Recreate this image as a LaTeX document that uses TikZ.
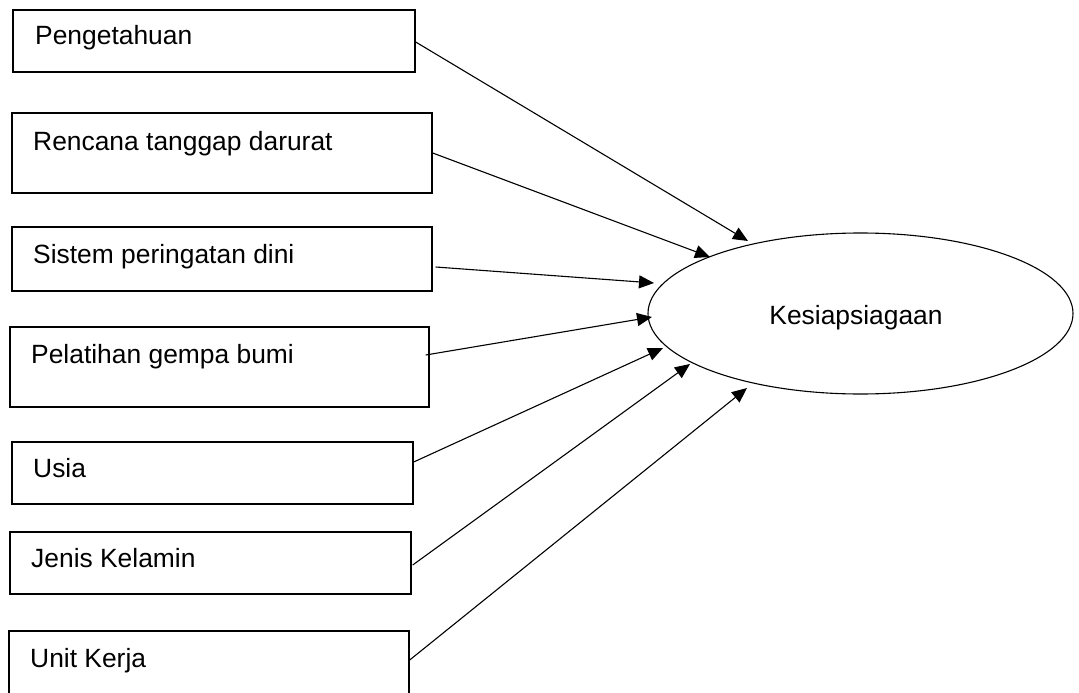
\documentclass[tikz,border=0pt]{standalone}
\usepackage{fontspec}
\setmainfont{Liberation Sans}
\usetikzlibrary{arrows.meta,calc,shapes.geometric}
\begin{document}
\begin{tikzpicture}[x=1pt,y=-1pt,
  box/.style={draw,line width=1.4pt,rectangle,inner sep=0pt},
  lbl/.style={anchor=base west,inner sep=0pt,font=\fontsize{26.4}{30}\selectfont},
  arr/.style={line width=1.1pt,-{Triangle[length=15pt,width=13pt]}}]
\useasboundingbox (0,0) rectangle (1079,693);
\clip (0,0) rectangle (1079,693);
\node[box,minimum width=402pt,minimum height=62pt] (b1) at (214,41) {};
\node[box,minimum width=420pt,minimum height=80pt] (b2) at (222,153) {};
\node[box,minimum width=420pt,minimum height=64pt] (b3) at (222,259) {};
\node[box,minimum width=419pt,minimum height=80pt] (b4) at (219.5,367) {};
\node[box,minimum width=401pt,minimum height=62pt] (b5) at (212.5,473) {};
\node[box,minimum width=401pt,minimum height=62pt] (b6) at (210.5,563) {};
\node[box,minimum width=400pt,minimum height=72pt] (b7) at (209,667) {};
\node[lbl] (t1) at (35,45) {Pengetahuan};
\node[lbl] (t2) at (33,150) {Rencana tanggap darurat};
\node[lbl] (t3) at (33,263) {Sistem peringatan dini};
\node[lbl] (t4) at (31,363) {Pelatihan gempa bumi};
\node[lbl] (t5) at (33,477) {Usia};
\node[lbl] (t6) at (31,567) {Jenis Kelamin};
\node[lbl] (t7) at (30,667) {Unit Kerja};
\node[draw,line width=1.1pt,ellipse,minimum width=425pt,minimum height=161pt,inner sep=0pt] (k) at (860.5,313.5) {};
\node[inner sep=0pt,font=\fontsize{26.4}{30}\selectfont] (kt) at (856,318) {Kesiapsiagaan};
\coordinate (e1) at (748,241);
\coordinate (e2) at (710,257);
\coordinate (e3) at (654,283);
\coordinate (e4) at (652,317);
\coordinate (e5) at (663,348);
\coordinate (e6) at (690,364);
\coordinate (e7) at (747,388);
\draw[arr] ($(b1.east)+(0,1)$) -- (e1);
\draw[arr] (b2.east) -- (e2);
\draw[arr] ($(b3.east)+(3,8)$) -- (e3);
\draw[arr] ($(b4.east)+(-4,-12)$) -- (e4);
\draw[arr] ($(b5.east)+(0,-11)$) -- (e5);
\draw[arr] ($(b6.east)+(1,2)$) -- (e6);
\draw[arr] ($(b7.east)+(0,-7)$) -- (e7);
\end{tikzpicture}
\end{document}
